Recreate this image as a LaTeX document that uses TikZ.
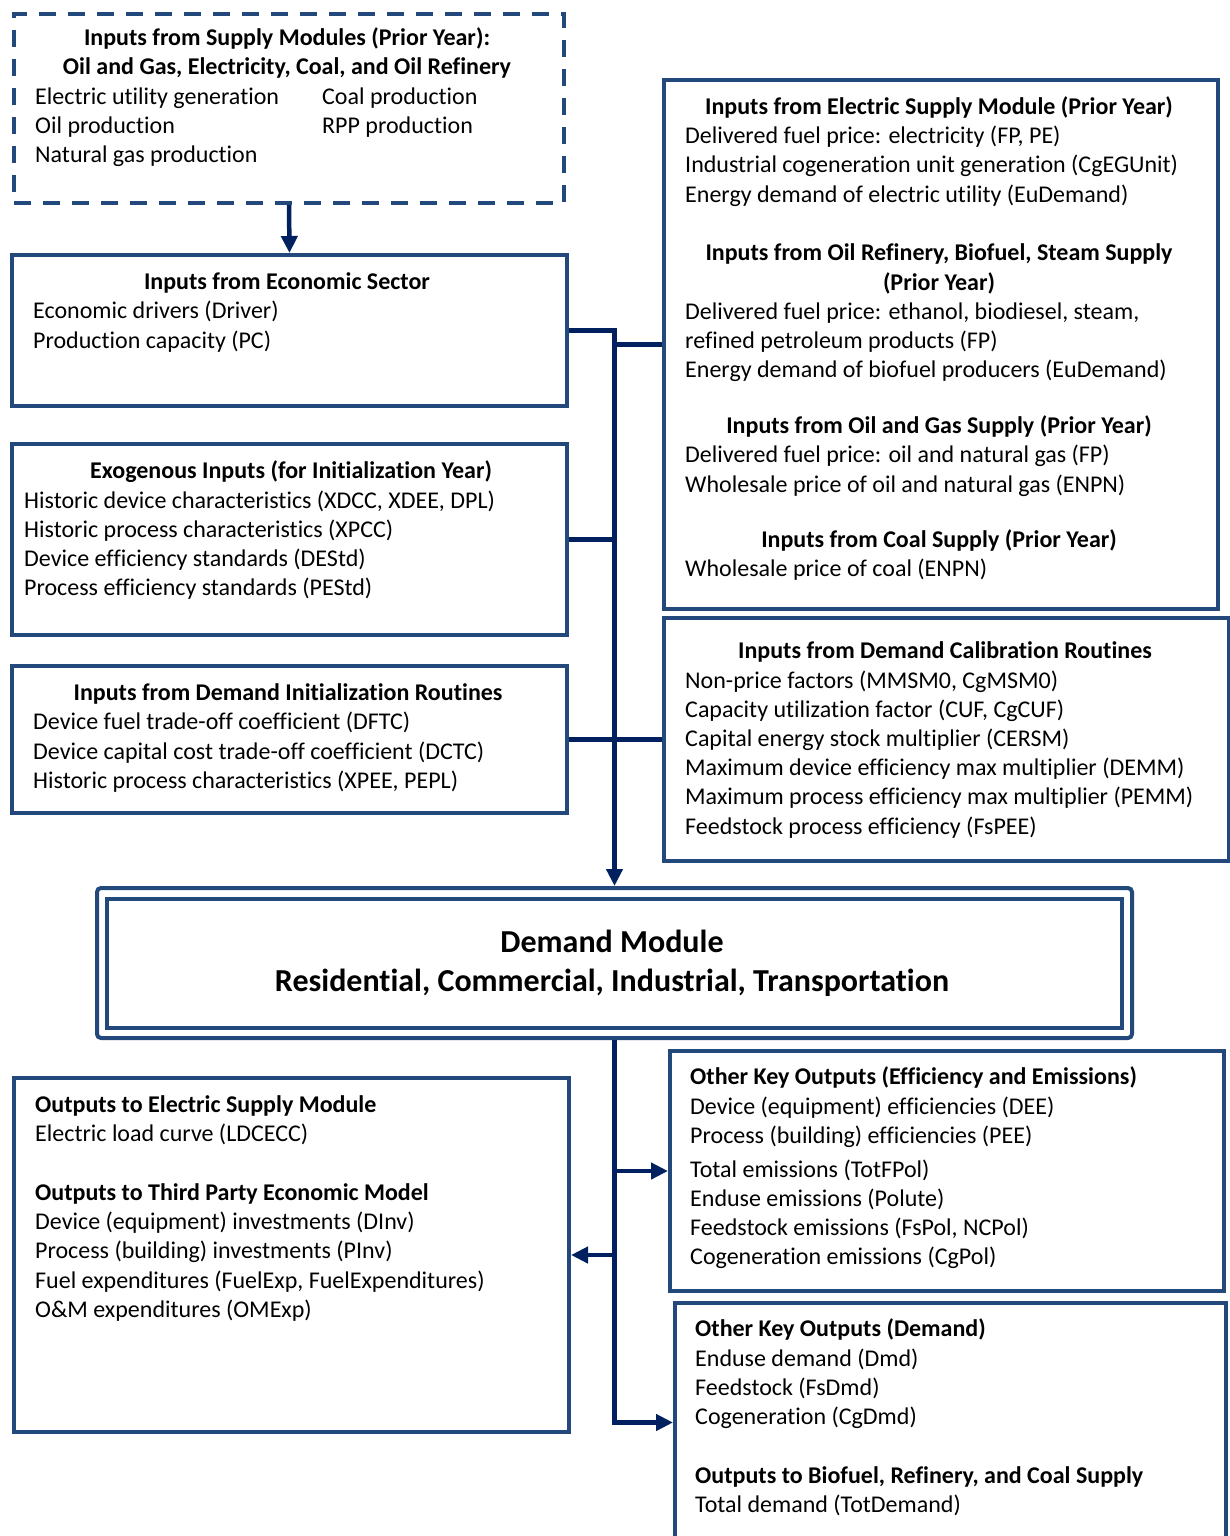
\documentclass[tikz,border=0pt]{standalone}
\usepackage{fontspec}
\setmainfont[Ligatures=NoCommon]{Carlito}
\usetikzlibrary{arrows.meta}
\definecolor{frameblue}{HTML}{23487C}
\definecolor{linknavy}{HTML}{002060}
\tikzset{
  panel/.style={draw=frameblue, line width=4pt, rectangle, inner sep=0pt, anchor=north west},
  link/.style={draw=linknavy, line width=4.5pt},
  tip/.style={-{Triangle[length=17pt,width=16pt]}},
  ln/.style={inner sep=0pt, anchor=west, yshift=-6pt, text height=0.72em, text depth=0.24em, font=\fontsize{24}{28}\selectfont},
  hd/.style={ln, font=\fontsize{24}{28}\selectfont\bfseries},
  hdc/.style={hd, anchor=center},
}
% place a box from its top-left corner (x,y) with width w and height h
\newcommand{\panelat}[6][]{\node[panel,#1,minimum width=#4pt,minimum height=#5pt] (#2) at (#3) {};}
\begin{document}
\begin{tikzpicture}[x=1pt,y=-1pt]
\useasboundingbox[fill=white] (0,0) rectangle (1229,1536);

% ---------- boxes ----------
\panelat[dash pattern=on 17pt off 12pt]{sup}{12,12}{550}{189}{}
\panelat{econ}{10,253}{555}{151}{}
\panelat{exo}{10,442}{555}{191}{}
\panelat{ini}{10,664}{555}{147}{}
\panelat{rt}{662,78}{554}{529}{}
\panelat{cal}{662,616}{565}{243}{}
\panelat{out}{12,1076}{555}{354}{}
\panelat{eff}{668,1049}{554}{240}{}
\panelat{dem}{673,1301}{551}{239}{}
% demand module with a double frame
\node[panel, rounded corners=4pt, minimum width=1035pt, minimum height=150pt] (dm) at (95,886) {};
\node[panel, minimum width=1015pt, minimum height=129pt] (dmin) at (105,897) {};

% ---------- texts ----------
% supply modules
\node[hdc] (s1) at (287,37) {Inputs from Supply Modules (Prior Year):};
\node[hdc] (s2) at (287,66) {Oil and Gas, Electricity, Coal, and Oil Refinery};
\node[ln] (s3) at (35,96) {Electric utility generation};
\node[ln] (s4) at (35,125) {Oil production};
\node[ln] (s5) at (35,154) {Natural gas production};
\node[ln] (s6) at (322,96) {Coal production};
\node[ln] (s7) at (322,125) {RPP production};

% economic sector
\node[hdc] (e1) at (287,281) {Inputs from Economic Sector};
\node[ln] (e2) at (33,310) {Economic drivers (Driver)};
\node[ln] (e3) at (33,340) {Production capacity (PC)};

% exogenous inputs
\node[hdc] (x1) at (291,470) {Exogenous Inputs (for Initialization Year)};
\node[ln] (x2) at (24,500) {Historic device characteristics (XDCC, XDEE, DPL)};
\node[ln] (x3) at (24,529) {Historic process characteristics (XPCC)};
\node[ln] (x4) at (24,558) {Device efficiency standards (DEStd)};
\node[ln] (x5) at (24,587) {Process efficiency standards (PEStd)};

% initialization routines
\node[hdc] (i1) at (288,692) {Inputs from Demand Initialization Routines};
\node[ln] (i2) at (33,721) {Device fuel trade-off coefficient (DFTC)};
\node[ln] (i3) at (33,751) {Device capital cost trade-off coefficient (DCTC)};
\node[ln] (i4) at (33,780) {Historic process characteristics (XPEE, PEPL)};

% supply inputs, right column
\node[hdc] (r1) at (939,106) {Inputs from Electric Supply Module (Prior Year)};
\node[ln] (r2) at (685,135) {Delivered fuel price: electricity (FP, PE)};
\node[ln] (r3) at (685,164) {Industrial cogeneration unit generation (CgEGUnit)};
\node[ln] (r4) at (685,194) {Energy demand of electric utility (EuDemand)};
\node[hdc] (r5) at (939,252) {Inputs from Oil Refinery, Biofuel, Steam Supply};
\node[hdc] (r6) at (939,282) {(Prior Year)};
\node[ln] (r7) at (685,311) {Delivered fuel price: ethanol, biodiesel, steam,};
\node[ln] (r8) at (685,340) {refined petroleum products (FP)};
\node[ln] (r9) at (685,369) {Energy demand of biofuel producers (EuDemand)};
\node[hdc] (r10) at (939,425) {Inputs from Oil and Gas Supply (Prior Year)};
\node[ln] (r11) at (685,454) {Delivered fuel price: oil and natural gas (FP)};
\node[ln] (r12) at (685,484) {Wholesale price of oil and natural gas (ENPN)};
\node[hdc] (r13) at (939,539) {Inputs from Coal Supply (Prior Year)};
\node[ln] (r14) at (685,568) {Wholesale price of coal (ENPN)};

% calibration routines
\node[hdc] (c1) at (945,650) {Inputs from Demand Calibration Routines};
\node[ln] (c2) at (685,680) {Non-price factors (MMSM0, CgMSM0)};
\node[ln] (c3) at (685,709) {Capacity utilization factor (CUF, CgCUF)};
\node[ln] (c4) at (685,738) {Capital energy stock multiplier (CERSM)};
\node[ln] (c5) at (685,767) {Maximum device efficiency max multiplier (DEMM)};
\node[ln] (c6) at (685,796) {Maximum process efficiency max multiplier (PEMM)};
\node[ln] (c7) at (685,826) {Feedstock process efficiency (FsPEE)};

% demand module
\node[hdc, font=\fontsize{32}{36}\selectfont\bfseries] (m1) at (612,944) {Demand Module};
\node[hdc, font=\fontsize{32}{36}\selectfont\bfseries] (m2) at (612,983) {Residential, Commercial, Industrial, Transportation};

% outputs, left
\node[hd] (o1) at (35,1104) {Outputs to Electric Supply Module};
\node[ln] (o2) at (35,1133) {Electric load curve (LDCECC)};
\node[hd] (o3) at (35,1192) {Outputs to Third Party Economic Model};
\node[ln] (o4) at (35,1221) {Device (equipment) investments (DInv)};
\node[ln] (o5) at (35,1250) {Process (building) investments (PInv)};
\node[ln] (o6) at (35,1280) {Fuel expenditures (FuelExp, FuelExpenditures)};
\node[ln] (o7) at (35,1309) {O\&M expenditures (OMExp)};

% efficiency and emissions
\node[hd] (f1) at (690,1076) {Other Key Outputs (Efficiency and Emissions)};
\node[ln] (f2) at (690,1106) {Device (equipment) efficiencies (DEE)};
\node[ln] (f3) at (690,1135) {Process (building) efficiencies (PEE)};
\node[ln] (f4) at (690,1169) {Total emissions (TotFPol)};
\node[ln] (f5) at (690,1198) {Enduse emissions (Polute)};
\node[ln] (f6) at (690,1227) {Feedstock emissions (FsPol, NCPol)};
\node[ln] (f7) at (690,1256) {Cogeneration emissions (CgPol)};

% demand outputs
\node[hd] (d1) at (695,1328) {Other Key Outputs (Demand)};
\node[ln] (d2) at (695,1358) {Enduse demand (Dmd)};
\node[ln] (d3) at (695,1387) {Feedstock (FsDmd)};
\node[ln] (d4) at (695,1416) {Cogeneration (CgDmd)};
\node[hd] (d5) at (695,1475) {Outputs to Biofuel, Refinery, and Coal Supply};
\node[ln] (d6) at (695,1504) {Total demand (TotDemand)};

% ---------- connectors ----------
\draw[link, tip] (sup.south) -- (econ.north);
\draw[link, tip] (econ.east) -| (dm.north);
\draw[link] (rt.west) -- (rt.west -| dm.north);
\draw[link] (exo.east) -- (exo.east -| dm.north);
\draw[link] (ini.east) -- (cal.west);
\draw[link, tip] (dm.south) |- (dem.west);
\draw[link, tip] (eff.west -| dm.south) -- (eff.west);
\draw[link, tip] (out.east -| dm.south) -- (out.east);
\end{tikzpicture}
\end{document}
